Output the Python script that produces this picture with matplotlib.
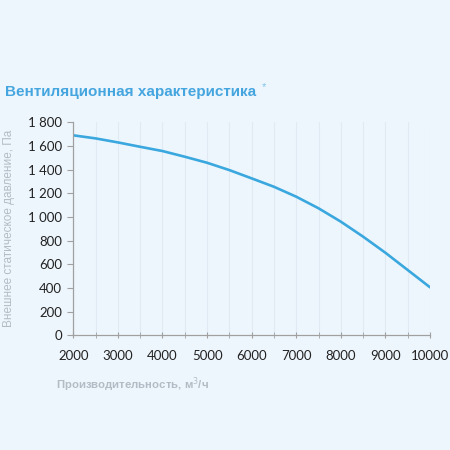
import matplotlib
matplotlib.use('Agg')
import matplotlib.pyplot as plt
from matplotlib.ticker import MultipleLocator, FuncFormatter

# airflow, m3/h and external static pressure, Pa
flow = [2000, 2500, 3000, 3500, 4000, 4500, 5000, 5500, 6000,
        6500, 7000, 7500, 8000, 8500, 9000, 9500, 10000]
pressure = [1690, 1664, 1630, 1593, 1557, 1509, 1458, 1396, 1326,
            1255, 1171, 1073, 960, 833, 697, 551, 405]

title = 'Вентиляционная характеристика'
xlabel = 'Производительность, м$^3$/ч'
ylabel = 'Внешнее статическое давление, Па'

bg = '#eef6fd'
blue = '#3aa8de'
grey = '#b3bcc4'

fig = plt.figure(figsize=(4.5, 4.5), dpi=100, facecolor=bg)
ax = fig.add_axes([0.1629, 0.2551, 0.7927, 0.4731], facecolor=bg)

ax.plot(flow, pressure, color=blue, lw=1.9, solid_capstyle='round')

ax.set_xlim(2000, 10000)
ax.set_ylim(0, 1800)
ax.xaxis.set_major_locator(MultipleLocator(1000))
ax.xaxis.set_minor_locator(MultipleLocator(500))
ax.yaxis.set_major_locator(MultipleLocator(200))
ax.yaxis.set_major_formatter(FuncFormatter(
    lambda v, p: '{:,}'.format(int(v)).replace(',', ' ')))

ax.grid(True, which='both', axis='x', color='#e1eaf2', lw=0.8)
ax.set_axisbelow(True)

for s in ['top', 'right']:
    ax.spines[s].set_visible(False)
for s in ['left', 'bottom']:
    ax.spines[s].set_color('#a0a0a0')
    ax.spines[s].set_linewidth(0.9)

ax.tick_params(axis='x', which='both', direction='inout', length=5,
               color='#a0a0a0', pad=8)
ax.tick_params(axis='y', direction='out', length=4, color='#a0a0a0', pad=4)
for lab in ax.get_xticklabels() + ax.get_yticklabels():
    lab.set_fontfamily('Lato')
    lab.set_fontsize(9.5)
    lab.set_color('#222222')

ax.set_xlabel(xlabel, fontsize=8.2, color=grey, fontweight='bold',
              family='Liberation Sans', loc='left')
ax.xaxis.set_label_coords(-0.048, -0.19)
ax.set_ylabel(ylabel, fontsize=8.5, color=grey, family='Liberation Sans')
ax.yaxis.set_label_coords(-0.163, 0.5)

fig.text(0.011, 0.796, title, fontsize=11, fontweight='bold', color='#45a5df',
         family='Liberation Sans', va='center')
fig.text(0.582, 0.806, '*', fontsize=8, color='#7fc3ea',
         family='Liberation Sans', va='center')

fig.savefig('out.png', dpi=100, facecolor=bg)
